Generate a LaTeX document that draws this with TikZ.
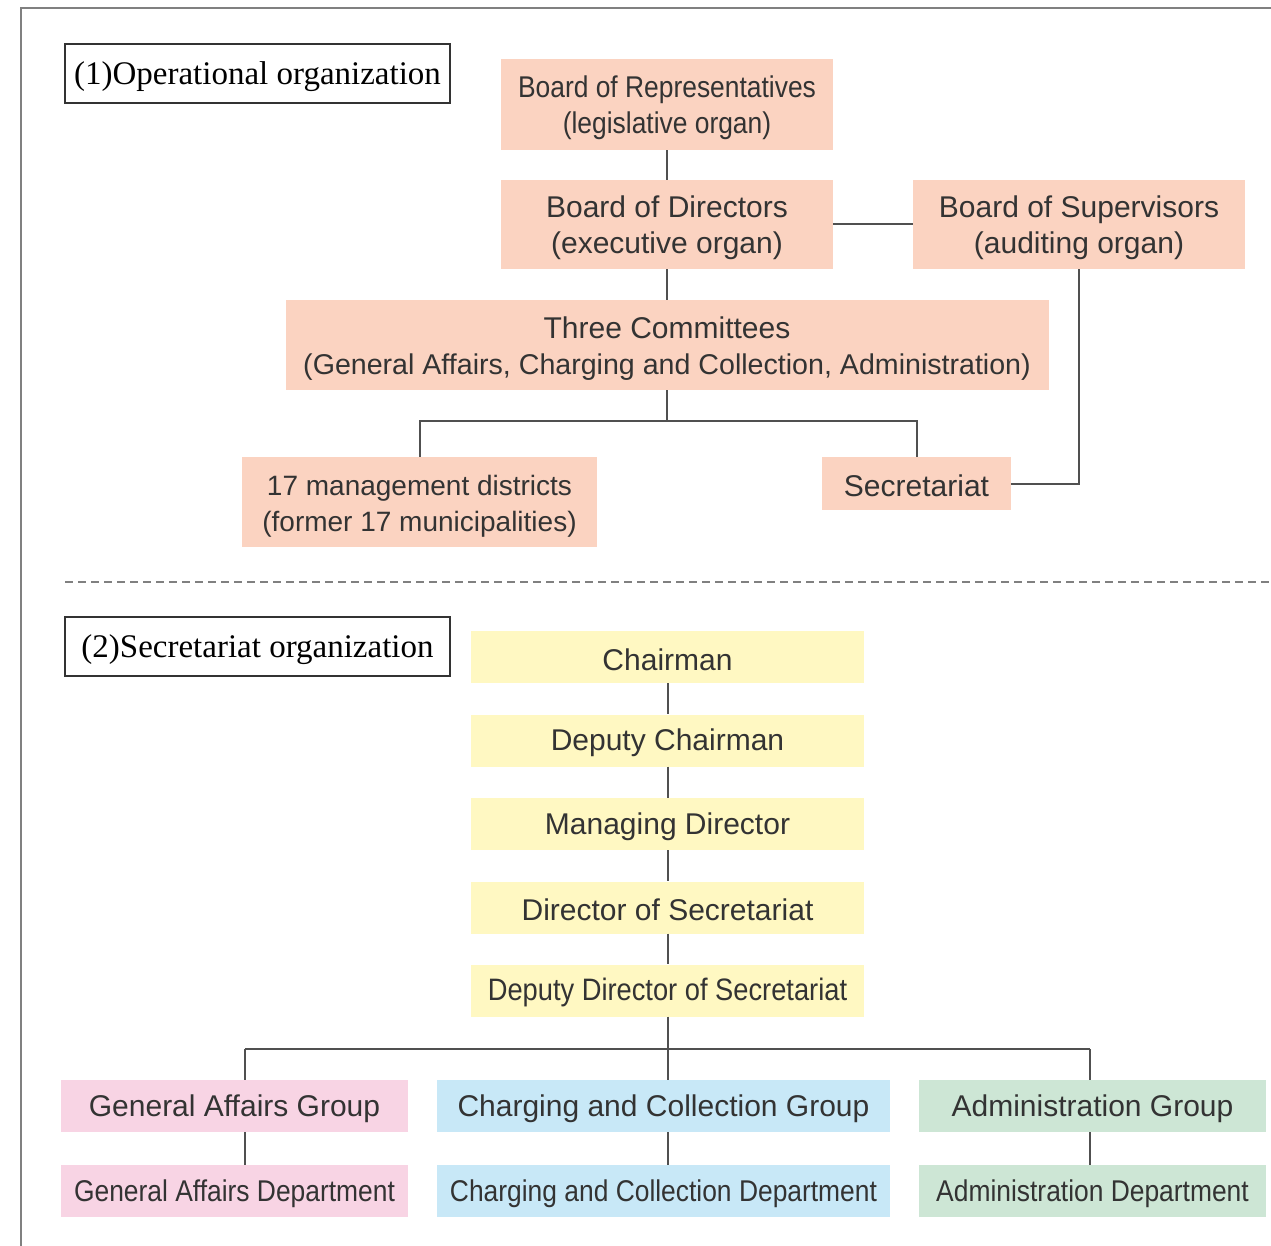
\documentclass[tikz,border=0pt]{standalone}
\usepackage{fontspec}
\setmainfont{Liberation Sans}
\newfontfamily\labelfont{Liberation Serif}
\newfontfamily\narrowfont[FakeStretch=0.88]{Liberation Sans}
\usetikzlibrary{positioning}

\definecolor{salmon}{HTML}{FBD3C1}
\definecolor{lemon}{HTML}{FFF8C2}
\definecolor{rose}{HTML}{F8D4E4}
\definecolor{sky}{HTML}{C8E8F7}
\definecolor{mint}{HTML}{CDE6D5}
\definecolor{ink}{HTML}{333333}
\definecolor{wire}{HTML}{505050}

\newcommand{\boxfont}{\fontsize{30}{36}\selectfont}
\newcommand{\tagfont}{\labelfont\fontsize{33}{38}\selectfont}

\begin{document}
\begin{tikzpicture}[x=1pt, y=-1pt,
                    org node/.style={inner sep=0pt, align=center, text=ink, font=\boxfont,
                                     execute at begin node={\rule{0pt}{26.5pt}}},
                    two line/.style={execute at begin node={\rule{0pt}{64pt}}},
                    op node/.style={org node, fill=salmon},
                    sec node/.style={org node, fill=lemon, minimum width=393pt, minimum height=52pt},
                    ga node/.style={org node, fill=rose, minimum width=347pt, minimum height=52pt},
                    cc node/.style={org node, fill=sky, minimum width=453pt, minimum height=52pt},
                    ad node/.style={org node, fill=mint, minimum width=347pt, minimum height=52pt},
                    tag node/.style={draw=ink, line width=1.2pt, inner sep=0pt, font=\tagfont,
                                     minimum width=385pt, minimum height=59pt,
                                     execute at begin node={\rule{0pt}{30pt}}},
                    conn/.style={draw=wire, line width=2pt}]
    \useasboundingbox (0,0) rectangle (1271,1246);
    % frame
    \draw[gray, line width=2pt] (21,1246) -- (21,8) -- (1271,8);

    % (1) operational organization
    \node[tag node] (optag) at (257.5,73.5) {(1)Operational organization};
    \node[op node, two line, minimum width=332pt, minimum height=91pt] (rep) at (667,104.5)
        {\narrowfont Board of Representatives\\\narrowfont (legislative organ)};
    \node[op node, two line, minimum width=332pt, minimum height=89pt] (dir) at (667,224.5)
        {Board of Directors\\(executive organ)};
    \node[op node, two line, minimum width=332pt, minimum height=89pt] (sup) at (1079,224.5)
        {Board of Supervisors\\(auditing organ)};
    \node[op node, two line, minimum width=763pt, minimum height=90pt] (com) at (667,345)
        {Three Committees\\{\fontsize{28.6}{36}\selectfont(General Affairs, Charging and Collection, Administration)}};
    \node[op node, two line, minimum width=355pt, minimum height=90pt] (dist) at (419.5,502)
        {\fontsize{28}{36}\selectfont 17 management districts\\\fontsize{28}{36}\selectfont (former 17 municipalities)};
    \node[op node, minimum width=189pt, minimum height=53pt] (secr) at (916.5,483.5) {Secretariat};

    \draw[conn] (rep) -- (dir);
    \draw[conn] (dir) -- (sup);
    \draw[conn] (dir) -- (com);
    \draw[conn] (com.south) -- ++(0,31) coordinate (split);
    \draw[conn] (dist.north) |- (split) -| (secr.north);
    \draw[conn] (sup.south) |- (secr.east);

    \draw[gray, line width=1.5pt, dash pattern=on 8pt off 5pt] (65,582) -- (1271,582);

    % (2) secretariat organization
    \node[tag node] (sectag) at (257.5,646.5) {(2)Secretariat organization};
    \node[sec node] (chair) at (667.5,657)   {Chairman};
    \node[sec node] (dchair) at (667.5,740.5) {Deputy Chairman};
    \node[sec node] (mdir) at (667.5,824)    {Managing Director};
    \node[sec node] (sdir) at (667.5,907.5)  {Director of Secretariat};
    \node[sec node] (ddir) at (667.5,990.5)  {\narrowfont\fontsize{31}{36}\selectfont Deputy Director of Secretariat};

    \node[ga node] (gagrp) at (234.5,1106) {General Affairs Group};
    \node[cc node] (ccgrp) at (663.5,1106) {Charging and Collection Group};
    \node[ad node] (adgrp) at (1092.5,1106) {Administration Group};
    \node[ga node] (gadep) at (234.5,1191) {\narrowfont General Affairs Department};
    \node[cc node] (ccdep) at (663.5,1191) {\narrowfont Charging and Collection Department};
    \node[ad node] (addep) at (1092.5,1191) {\narrowfont Administration Department};

    \draw[conn] (chair) -- (dchair);
    \draw[conn] (dchair) -- (mdir);
    \draw[conn] (mdir) -- (sdir);
    \draw[conn] (sdir) -- (ddir);
    \coordinate (galine) at (245,1049);
    \coordinate (adline) at (1090,1049);
    \draw[conn] (galine) -- (adline);
    \draw[conn] (ddir.south) -- (ddir.south |- ccgrp.north);
    \draw[conn] (galine) -- (galine |- gagrp.north);
    \draw[conn] (adline) -- (adline |- adgrp.north);
    \draw[conn] (galine |- gagrp.south) -- (galine |- gadep.north);
    \draw[conn] (ddir.south |- ccgrp.south) -- (ddir.south |- ccdep.north);
    \draw[conn] (adline |- adgrp.south) -- (adline |- addep.north);
\end{tikzpicture}
\end{document}
